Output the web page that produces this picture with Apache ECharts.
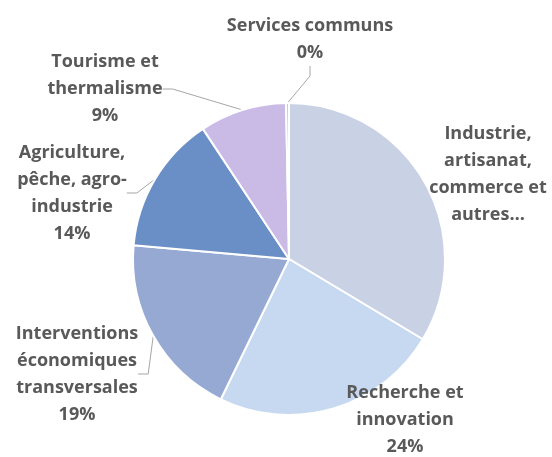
<!DOCTYPE html>
<html>
<head>
<meta charset="utf-8">
<script src="https://cdn.jsdelivr.net/npm/echarts@6/dist/echarts.min.js"></script>
<style>
html, body { margin: 0; padding: 0; background: #fff; }
#chart { width: 552px; height: 457px; }
</style>
</head>
<body>
<div id="chart"></div>
<script>
// secteurs, dans le sens horaire depuis le haut
var secteurs = ['Industrie,\nartisanat,\ncommerce et\nautres…', 'Recherche et\ninnovation', 'Interventions\néconomiques\ntransversales', 'Agriculture,\npêche, agro-\nindustrie', 'Tourisme et\nthermalisme', 'Services communs'];
var parts = [33.6, 23.6, 19.2, 14.3, 9.0, 0.3];
var couleurs = ['#c9d1e5', '#c6d9f1', '#95a9d3', '#6a8fc6', '#cabbe6', '#b9c4dd'];
var avecPourcent = [false, true, true, true, true, true];
var avecTrait = [false, false, true, true, true, true];
// position du centre des étiquettes (px)
var posEtiquettes = [[488, 174], [405, 420], [77, 374], [72, 193], [105, 89], [310, 39]];

var myChart = echarts.init(document.getElementById('chart'));
var donnees = [];
for (var i = 0; i < parts.length; i++) {
	donnees.push({
		name: secteurs[i],
		value: parts[i],
		itemStyle: { color: couleurs[i] },
		labelLine: { show: avecTrait[i] }
	});
}
var option = {
	animation: false,
	series: [{
		type: 'pie',
		center: [289, 259],
		radius: 156,
		startAngle: 90,
		clockwise: true,
		percentPrecision: 0,
		itemStyle: {
			borderColor: '#ffffff',
			borderWidth: 2
		},
		label: {
			show: true,
			position: 'outside',
			color: '#595959',
			fontFamily: 'Open Sans',
			fontWeight: 'bold',
			fontSize: 18,
			lineHeight: 27,
			align: 'center',
			overflow: 'none',
			formatter: function(p) {
				if (!avecPourcent[p.dataIndex]) return p.name;
				return p.name + '\n' + p.percent + '%';
			}
		},
		labelLine: {
			show: true,
			length: 10,
			length2: 10,
			lineStyle: { color: '#a6a6a6', width: 1 }
		},
		labelLayout: function(params) {
			var p = posEtiquettes[params.dataIndex];
			return { x: p[0], y: p[1], align: 'center', verticalAlign: 'middle' };
		},
		data: donnees
	}]
};
myChart.setOption(option);
</script>
</body>
</html>
